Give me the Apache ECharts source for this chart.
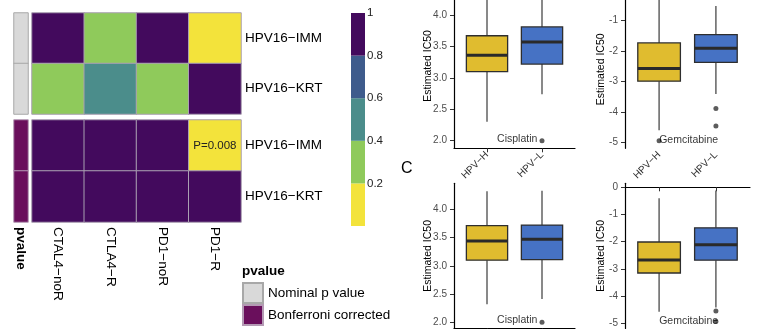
<!DOCTYPE html>
<html>
<head>
<meta charset="utf-8">
<script src="https://cdn.jsdelivr.net/npm/echarts@6/dist/echarts.min.js"></script>
<style>
  html, body { margin: 0; padding: 0; background: #fff; }
  #chart { width: 775px; height: 329px; }
</style>
</head>
<body>
<div id="chart"></div>
<script>
// ---- Heatmap: p values of immune checkpoint signatures per HPV16 subtype ----
const heatCols = ['CTAL4−noR', 'CTLA4−R', 'PD1−noR', 'PD1−R'];
const heatRows = ['HPV16−IMM', 'HPV16−KRT'];
const nominalP = [
  [0.86, 0.31, 0.91, 0.002],   // HPV16-IMM
  [0.27, 0.48, 0.34, 0.83]     // HPV16-KRT
];
const bonferroniP = [
  [1, 1, 1, 0.008],
  [1, 1, 1, 1]
];
const annoNames = ['Nominal p value', 'Bonferroni corrected'];
const colorBreaks = [0, 0.2, 0.4, 0.6, 0.8, 1];
const colorTicks = [0.2, 0.4, 0.6, 0.8, 1];

// ---- Boxplots: estimated IC50 per HPV group (min, Q1, median, Q3, max) ----
const groups = ['HPV−H', 'HPV−L'];
const cisplatinA = [[2.30, 3.10, 3.36, 3.67, 4.33], [2.74, 3.22, 3.57, 3.81, 4.38]];
const gemcitabineA = [[-4.60, -2.99, -2.57, -1.73, -0.15], [-3.41, -2.37, -1.91, -1.46, -0.52]];
const cisplatinB = [[2.32, 3.10, 3.44, 3.71, 4.32], [2.41, 3.11, 3.47, 3.72, 4.33]];
const gemcitabineB = [[-4.57, -3.15, -2.67, -2.01, -0.40], [-4.42, -2.68, -2.11, -1.49, -0.12]];
const cisplatinAOut = [[2, 2.0]];
const gemcitabineAOut = [[1, -4.95], [2, -3.89], [2, -4.46]];
const cisplatinBOut = [[2, 2.0]];
const gemcitabineBOut = [[2, -4.55], [2, -4.93]];
const cisTicks = [2.0, 2.5, 3.0, 3.5, 4.0];
const gemTicksA = [-5, -4, -3, -2, -1];
const gemTicksB = [-5, -4, -3, -2, -1, 0];
const drugNames = ['Cisplatin', 'Gemcitabine'];
const drugLabelPos = [[1.55, 2.03], [1.52, -4.93]];

const FONT = 'Liberation Sans, Arial, sans-serif';
const binColors = ['#f3e33b', '#8fca5b', '#4b8d8b', '#3e5b8c', '#430a5d'];
const annoColors = ['#d9d9d9', '#6a0f5c'];
const groupColors = ['#e0bc2f', '#4672c4'];
const BOX_WIDTH = 0.75;

const chart = echarts.init(document.getElementById('chart'), null, { renderer: 'canvas' });

// grids: heatmap blocks, colour bar, four box panels (labels may overflow the canvas)
const grid = [
  { left: 14, top: 13, width: 14, height: 101 },        // 0 annotation (nominal)
  { left: 32, top: 13, width: 209, height: 101 },       // 1 cells (nominal)
  { left: 14, top: 120, width: 14, height: 102 },       // 2 annotation (bonferroni)
  { left: 32, top: 120, width: 209, height: 102 },      // 3 cells (bonferroni)
  { left: 351, top: 13, width: 14, height: 213 },       // 4 colour bar
  { left: 454, top: -16.4, width: 121, height: 164.7 }, // 5 cisplatin A
  { left: 625, top: -9.7, width: 125, height: 158 },    // 6 gemcitabine A
  { left: 454, top: 183.3, width: 121, height: 145.2 }, // 7 cisplatin B
  { left: 625, top: 183.3, width: 125, height: 145.2 }  // 8 gemcitabine B
].map(g => Object.assign({ outerBoundsMode: 'none', containLabel: false }, g));

const hidden = { show: false };
function catX(gi, data, showLabels, bold) {
  return {
    type: 'category', gridIndex: gi, data: data, position: 'bottom',
    axisLine: hidden, axisTick: hidden, splitLine: hidden,
    axisLabel: showLabels ? {
      show: true, rotate: -90, margin: 5, interval: 0,
      fontFamily: FONT, fontSize: 13.5, color: '#000', fontWeight: bold ? 'bold' : 'normal'
    } : hidden
  };
}
function catY(gi, showLabels) {
  return {
    type: 'category', gridIndex: gi, data: heatRows, inverse: true, position: 'right',
    axisLine: hidden, axisTick: hidden, splitLine: hidden,
    axisLabel: showLabels ? { show: true, margin: 4, fontFamily: FONT, fontSize: 13.5, color: '#000' } : hidden
  };
}

function boxX(gi) {
  return {
    type: 'value', gridIndex: gi, min: 0.4, max: 2.6,
    axisLine: { show: true, lineStyle: { color: '#000', width: 1.2 } },
    axisTick: { show: true, length: 4, customValues: [1, 2], lineStyle: { color: '#333' } },
    splitLine: hidden,
    axisLabel: {
      show: true, customValues: [1, 2], rotate: 45, margin: 5,
      fontFamily: FONT, fontSize: 10, color: '#333',
      formatter: v => groups[Math.round(v) - 1]
    }
  };
}
function boxY(gi, min, max, ticks, decimals, gap) {
  return {
    type: 'value', gridIndex: gi, min: min, max: max,
    name: 'Estimated IC50', nameLocation: 'middle', nameGap: gap, nameMoveOverlap: false,
    nameTextStyle: { fontFamily: FONT, fontSize: 10.5, color: '#000' },
    axisLine: { show: true, lineStyle: { color: '#000', width: 1.2 } },
    axisTick: { show: true, length: 4, customValues: ticks, lineStyle: { color: '#333' } },
    splitLine: hidden,
    axisLabel: {
      show: true, customValues: ticks, margin: 7,
      fontFamily: FONT, fontSize: 10, color: '#4d4d4d',
      formatter: v => v.toFixed(decimals)
    }
  };
}

function cellData(matrix) {
  const out = [];
  matrix.forEach((row, r) => row.forEach((v, c) => out.push([c, r, v])));
  return out;
}
function annoData() {
  return heatRows.map((_, r) => [0, r, 1]);
}

function renderBox(params, api) {
  const x = api.value(0);
  const pLo = api.coord([x, api.value(1)]);
  const pQ1 = api.coord([x, api.value(2)]);
  const pMed = api.coord([x, api.value(3)]);
  const pQ3 = api.coord([x, api.value(4)]);
  const pHi = api.coord([x, api.value(5)]);
  const half = api.size([BOX_WIDTH, 0])[0] / 2;
  const fill = groupColors[params.dataIndex];
  const whisker = { stroke: '#4a4a4a', lineWidth: 1.3 };
  return {
    type: 'group',
    children: [
      { type: 'line', shape: { x1: pHi[0], y1: pHi[1], x2: pQ3[0], y2: pQ3[1] }, style: whisker },
      { type: 'line', shape: { x1: pQ1[0], y1: pQ1[1], x2: pLo[0], y2: pLo[1] }, style: whisker },
      { type: 'rect', shape: { x: pQ3[0] - half, y: pQ3[1], width: half * 2, height: pQ1[1] - pQ3[1] },
        style: { fill: fill, stroke: '#2e2e2e', lineWidth: 1.3 } },
      { type: 'line', shape: { x1: pMed[0] - half, y1: pMed[1], x2: pMed[0] + half, y2: pMed[1] },
        style: { stroke: '#2a2a2a', lineWidth: 3 } }
    ]
  };
}

function boxSeries(ai, stats, outliers, drugIdx) {
  return [
    {
      type: 'custom', xAxisIndex: ai, yAxisIndex: ai,
      renderItem: renderBox, encode: { x: 0, y: [1, 2, 3, 4, 5] },
      data: stats.map((s, i) => [i + 1].concat(s)), silent: true
    },
    {
      type: 'scatter', xAxisIndex: ai, yAxisIndex: ai,
      symbolSize: 5, itemStyle: { color: '#333' }, data: outliers, silent: true
    },
    {
      type: 'scatter', xAxisIndex: ai, yAxisIndex: ai, symbolSize: 0, silent: true,
      data: [drugLabelPos[drugIdx]],
      label: { show: true, position: 'inside', formatter: drugNames[drugIdx],
        fontFamily: FONT, fontSize: 10.5, color: '#000' }
    }
  ];
}

const xAxis = [
  catX(0, ['pvalue'], false), catX(1, heatCols, false),
  catX(2, ['pvalue'], true, true), catX(3, heatCols, true),
  { type: 'category', gridIndex: 4, data: ['p'], show: false },
  boxX(5), boxX(6), boxX(7), boxX(8)
];
const yAxis = [
  catY(0, false), catY(1, true), catY(2, false), catY(3, true),
  {
    type: 'value', gridIndex: 4, min: 0, max: 1, position: 'right',
    axisLine: hidden, axisTick: hidden, splitLine: hidden,
    axisLabel: { show: true, customValues: colorTicks, margin: 2, fontFamily: FONT, fontSize: 11.5, color: '#222' }
  },
  boxY(5, 1.879, 4.5, cisTicks, 1, 20),
  boxY(6, -5.197, 0, gemTicksA, 0, 18),
  boxY(7, 1.89, 4.46, cisTicks, 1, 20),
  boxY(8, -5.19, 0.147, gemTicksB, 0, 18)
];

const cellBorder = { borderColor: '#aaa0b2', borderWidth: 1 };
const series = [
  { name: annoNames[0], type: 'heatmap', xAxisIndex: 0, yAxisIndex: 0, data: annoData(),
    itemStyle: { color: annoColors[0], borderColor: '#a8a8a8', borderWidth: 1 }, silent: true },
  { name: 'nominal', type: 'heatmap', xAxisIndex: 1, yAxisIndex: 1, data: cellData(nominalP),
    itemStyle: cellBorder, silent: true },
  { name: annoNames[1], type: 'heatmap', xAxisIndex: 2, yAxisIndex: 2, data: annoData(),
    itemStyle: { color: annoColors[1], borderColor: '#b49ab4', borderWidth: 1 }, silent: true },
  { name: 'bonferroni', type: 'heatmap', xAxisIndex: 3, yAxisIndex: 3, data: cellData(bonferroniP),
    itemStyle: cellBorder, silent: true,
    label: { show: true, fontFamily: FONT, fontSize: 11.5, color: '#222',
      formatter: p => (p.value[2] < 0.05 ? 'P=' + p.value[2] : '') } }
];
// colour bar, one stacked segment per bin
for (let i = 0; i < binColors.length; i++) {
  series.push({
    type: 'bar', xAxisIndex: 4, yAxisIndex: 4, stack: 'bar', barWidth: '100%', silent: true,
    itemStyle: { color: binColors[i] }, data: [colorBreaks[i + 1] - colorBreaks[i]]
  });
}
series.push(...boxSeries(5, cisplatinA, cisplatinAOut, 0));
series.push(...boxSeries(6, gemcitabineA, gemcitabineAOut, 1));
series.push(...boxSeries(7, cisplatinB, cisplatinBOut, 0));
series.push(...boxSeries(8, gemcitabineB, gemcitabineBOut, 1));

const pieces = binColors.map((c, i) => (i === binColors.length - 1
  ? { gte: colorBreaks[i], lte: colorBreaks[i + 1], color: c }
  : { gte: colorBreaks[i], lt: colorBreaks[i + 1], color: c }));

chart.setOption({
  animation: false,
  backgroundColor: '#fff',
  grid: grid,
  xAxis: xAxis,
  yAxis: yAxis,
  visualMap: { type: 'piecewise', show: false, seriesIndex: [1, 3], dimension: 2, pieces: pieces },
  legend: {
    data: annoNames, orient: 'vertical', left: 242, top: 282, padding: 0,
    itemWidth: 20, itemHeight: 20, itemGap: 0, icon: 'rect', selectedMode: false,
    textStyle: { fontFamily: FONT, fontSize: 13.5, color: '#000' }
  },
  graphic: [
    { type: 'text', left: 242, top: 264, style: { text: 'pvalue', fontFamily: FONT, fontSize: 13.5, fontWeight: 'bold', fill: '#000' } },
    { type: 'text', left: 401, top: 161, style: { text: 'C', fontFamily: FONT, fontSize: 16, fill: '#000' } }
  ],
  series: series
});
</script>
</body>
</html>
